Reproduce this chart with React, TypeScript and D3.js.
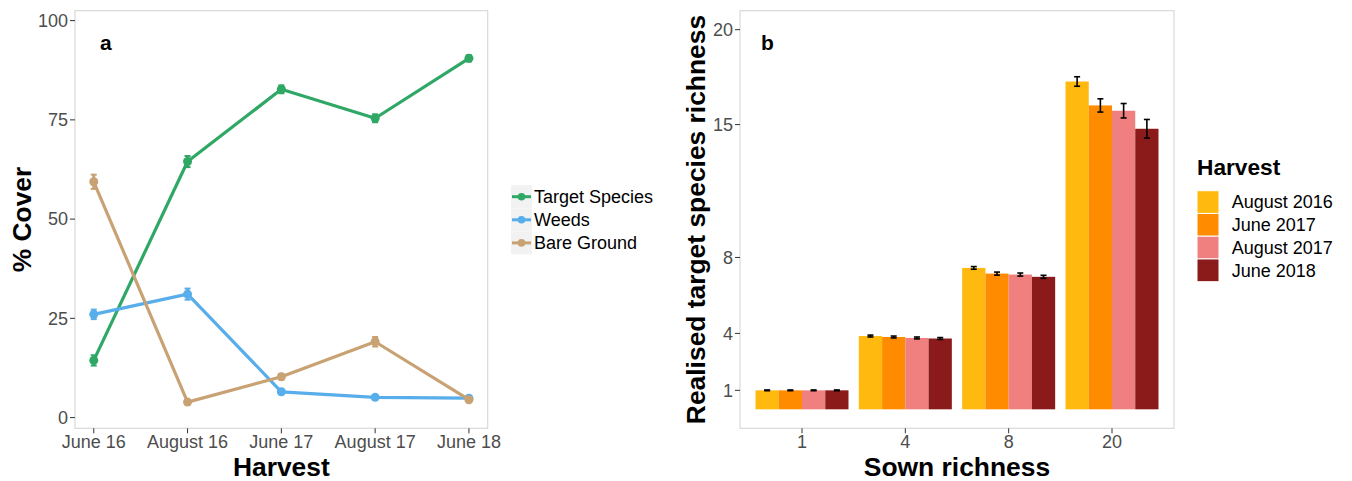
import React from "react";
import * as d3 from "d3";

// panel a
const harvestLabels = ["June 16", "August 16", "June 17", "August 17", "June 18"];
const coverSeries = ["Target Species", "Weeds", "Bare Ground"];
const targetSpecies = [14.4, 64.5, 82.7, 75.4, 90.5];
const weeds = [26.0, 31.1, 6.5, 5.1, 4.9];
const bareGround = [59.4, 3.9, 10.3, 19.1, 4.5];
const targetSE = [1.3, 1.4, 1.0, 1.0, 0.8];
const weedsSE = [1.2, 1.4, 0.6, 0.4, 0.4];
const bareSE = [1.8, 0.4, 0.7, 1.2, 0.5];
const coverTicks = [0, 25, 50, 75, 100];

// panel b
const sownRichness = ["1", "4", "8", "20"];
const harvests = ["August 2016", "June 2017", "August 2017", "June 2018"];
const aug2016 = [1.0, 3.86, 7.45, 17.27];
const jun2017 = [1.0, 3.81, 7.15, 16.01];
const aug2017 = [1.0, 3.76, 7.1, 15.73];
const jun2018 = [1.0, 3.73, 6.98, 14.78];
const aug2016SE = [0.02, 0.05, 0.07, 0.25];
const jun2017SE = [0.02, 0.05, 0.08, 0.35];
const aug2017SE = [0.02, 0.05, 0.08, 0.38];
const jun2018SE = [0.02, 0.05, 0.08, 0.49];
const richnessTicks = [1, 4, 8, 15, 20];

const lineColors = ["#2fa866", "#58aeea", "#c9a274"];
const barColors = ["#ffb90f", "#ff8c00", "#f08080", "#8b1a1a"];

const font = "'Liberation Sans', Arial, sans-serif";
const tickColor = "#4d4d4d";
const borderColor = "#d9d9d9";

export default function App() {
  // ---- panel a scales
  const a = { left: 75, right: 487.7, top: 10.7, bottom: 428.3 };
  const xa = d3.scalePoint<string>().domain(harvestLabels).range([a.left, a.right]).padding(0.2);
  const ya = d3.scaleLinear().domain([-2.7, 102.5]).range([a.bottom, a.top]);
  const coverValues = [targetSpecies, weeds, bareGround];
  const coverSE = [targetSE, weedsSE, bareSE];
  const line = d3
    .line<number>()
    .x((_, i) => xa(harvestLabels[i]) as number)
    .y((d) => ya(d));

  // ---- panel b scales
  const b = { left: 740, right: 1174, top: 10.7, bottom: 428.3 };
  const xb = d3.scaleBand<string>().domain(sownRichness).range([b.left, b.right]).paddingInner(0.1).paddingOuter(0.15);
  const xInner = d3.scaleBand<string>().domain(harvests).range([0, xb.bandwidth()]);
  const yb = d3.scaleLinear().domain([-1, 21]).range([b.bottom, b.top]);
  const barValues = [aug2016, jun2017, aug2017, jun2018];
  const barSE = [aug2016SE, jun2017SE, aug2017SE, jun2018SE];

  return (
    <svg width={1352} height={481} style={{ position: "absolute", left: 0, top: 0, background: "#fff" }} fontFamily={font}>
      {/* ===== panel a ===== */}
      <rect x={a.left} y={a.top} width={a.right - a.left} height={a.bottom - a.top} fill="#fff" stroke={borderColor} strokeWidth={1.2} />
      {coverTicks.map((t) => (
        <g key={t}>
          <line x1={a.left - 5} x2={a.left} y1={ya(t)} y2={ya(t)} stroke="#333" strokeWidth={1} />
          <text x={a.left - 7} y={ya(t)} dy="0.35em" textAnchor="end" fontSize={18} fill={tickColor}>{t}</text>
        </g>
      ))}
      {harvestLabels.map((h) => (
        <g key={h}>
          <line x1={xa(h)} x2={xa(h)} y1={a.bottom} y2={a.bottom + 5} stroke="#333" strokeWidth={1} />
          <text x={xa(h)} y={448} textAnchor="middle" fontSize={18} fill={tickColor}>{h}</text>
        </g>
      ))}
      {coverValues.map((vals, s) => (
        <g key={s}>
          <path d={line(vals) as string} fill="none" stroke={lineColors[s]} strokeWidth={3.2} strokeLinejoin="round" />
          {vals.map((v, i) => {
            const x = xa(harvestLabels[i]) as number;
            const se = coverSE[s][i];
            return (
              <g key={i}>
                <line x1={x} x2={x} y1={ya(v - se)} y2={ya(v + se)} stroke={lineColors[s]} strokeWidth={3} />
                <line x1={x - 3} x2={x + 3} y1={ya(v - se)} y2={ya(v - se)} stroke={lineColors[s]} strokeWidth={2} />
                <line x1={x - 3} x2={x + 3} y1={ya(v + se)} y2={ya(v + se)} stroke={lineColors[s]} strokeWidth={2} />
                <circle cx={x} cy={ya(v)} r={4.5} fill={lineColors[s]} />
              </g>
            );
          })}
        </g>
      ))}
      <text x={100} y={50} fontSize={21} fontWeight="bold" fill="#000">a</text>
      <text x={(a.left + a.right) / 2} y={476} textAnchor="middle" fontSize={26.4} fontWeight="bold" fill="#000">Harvest</text>
      <text transform={`translate(31,${(a.top + a.bottom) / 2}) rotate(-90)`} textAnchor="middle" fontSize={26.4} fontWeight="bold" fill="#000">% Cover</text>

      {/* legend a */}
      {coverSeries.map((name, i) => {
        const cy = 196.7 + i * 23.1;
        return (
          <g key={name}>
            <rect x={511} y={cy - 11.5} width={21} height={23} fill="#f2f2f2" />
            <line x1={512} x2={531} y1={cy} y2={cy} stroke={lineColors[i]} strokeWidth={3} />
            <circle cx={521.5} cy={cy} r={3.8} fill={lineColors[i]} />
            <text x={534} y={cy} dy="0.35em" fontSize={18} fill="#000">{name}</text>
          </g>
        );
      })}

      {/* ===== panel b ===== */}
      <rect x={b.left} y={b.top} width={b.right - b.left} height={b.bottom - b.top} fill="#fff" stroke={borderColor} strokeWidth={1.2} />
      {richnessTicks.map((t) => (
        <g key={t}>
          <line x1={b.left - 5} x2={b.left} y1={yb(t)} y2={yb(t)} stroke="#333" strokeWidth={1} />
          <text x={b.left - 7} y={yb(t)} dy="0.35em" textAnchor="end" fontSize={18} fill={tickColor}>{t}</text>
        </g>
      ))}
      {sownRichness.map((g) => (
        <g key={g}>
          <line x1={(xb(g) as number) + xb.bandwidth() / 2} x2={(xb(g) as number) + xb.bandwidth() / 2} y1={b.bottom} y2={b.bottom + 5} stroke="#333" strokeWidth={1} />
          <text x={(xb(g) as number) + xb.bandwidth() / 2} y={448} textAnchor="middle" fontSize={18} fill={tickColor}>{g}</text>
        </g>
      ))}
      {sownRichness.map((g, gi) => (
        <g key={g} transform={`translate(${xb(g)},0)`}>
          {harvests.map((h, hi) => {
            const v = barValues[hi][gi];
            const se = barSE[hi][gi];
            const x0 = xInner(h) as number;
            const cx = x0 + xInner.bandwidth() / 2;
            return (
              <g key={h}>
                <rect x={x0} y={yb(v)} width={xInner.bandwidth()} height={yb(0) - yb(v)} fill={barColors[hi]} />
                <line x1={cx} x2={cx} y1={yb(v - se)} y2={yb(v + se)} stroke="#000" strokeWidth={1.6} />
                <line x1={cx - 3} x2={cx + 3} y1={yb(v - se)} y2={yb(v - se)} stroke="#000" strokeWidth={1.6} />
                <line x1={cx - 3} x2={cx + 3} y1={yb(v + se)} y2={yb(v + se)} stroke="#000" strokeWidth={1.6} />
              </g>
            );
          })}
        </g>
      ))}
      <text x={761} y={50} fontSize={21} fontWeight="bold" fill="#000">b</text>
      <text x={(b.left + b.right) / 2} y={476} textAnchor="middle" fontSize={26.4} fontWeight="bold" fill="#000">Sown richness</text>
      <text transform={`translate(705,${(b.top + b.bottom) / 2}) rotate(-90)`} textAnchor="middle" fontSize={26.4} fontWeight="bold" fill="#000">Realised target species richness</text>

      {/* legend b */}
      <text x={1197} y={175} fontSize={22.7} fontWeight="bold" fill="#000">Harvest</text>
      {harvests.map((h, i) => {
        const y0 = 190.7 + i * 22.75;
        return (
          <g key={h}>
            <rect x={1197} y={y0} width={22} height={22.75} fill={barColors[i]} stroke="#fff" strokeWidth={1} />
            <text x={1231.7} y={y0 + 11.4} dy="0.35em" fontSize={18} fill="#000">{h}</text>
          </g>
        );
      })}
    </svg>
  );
}
